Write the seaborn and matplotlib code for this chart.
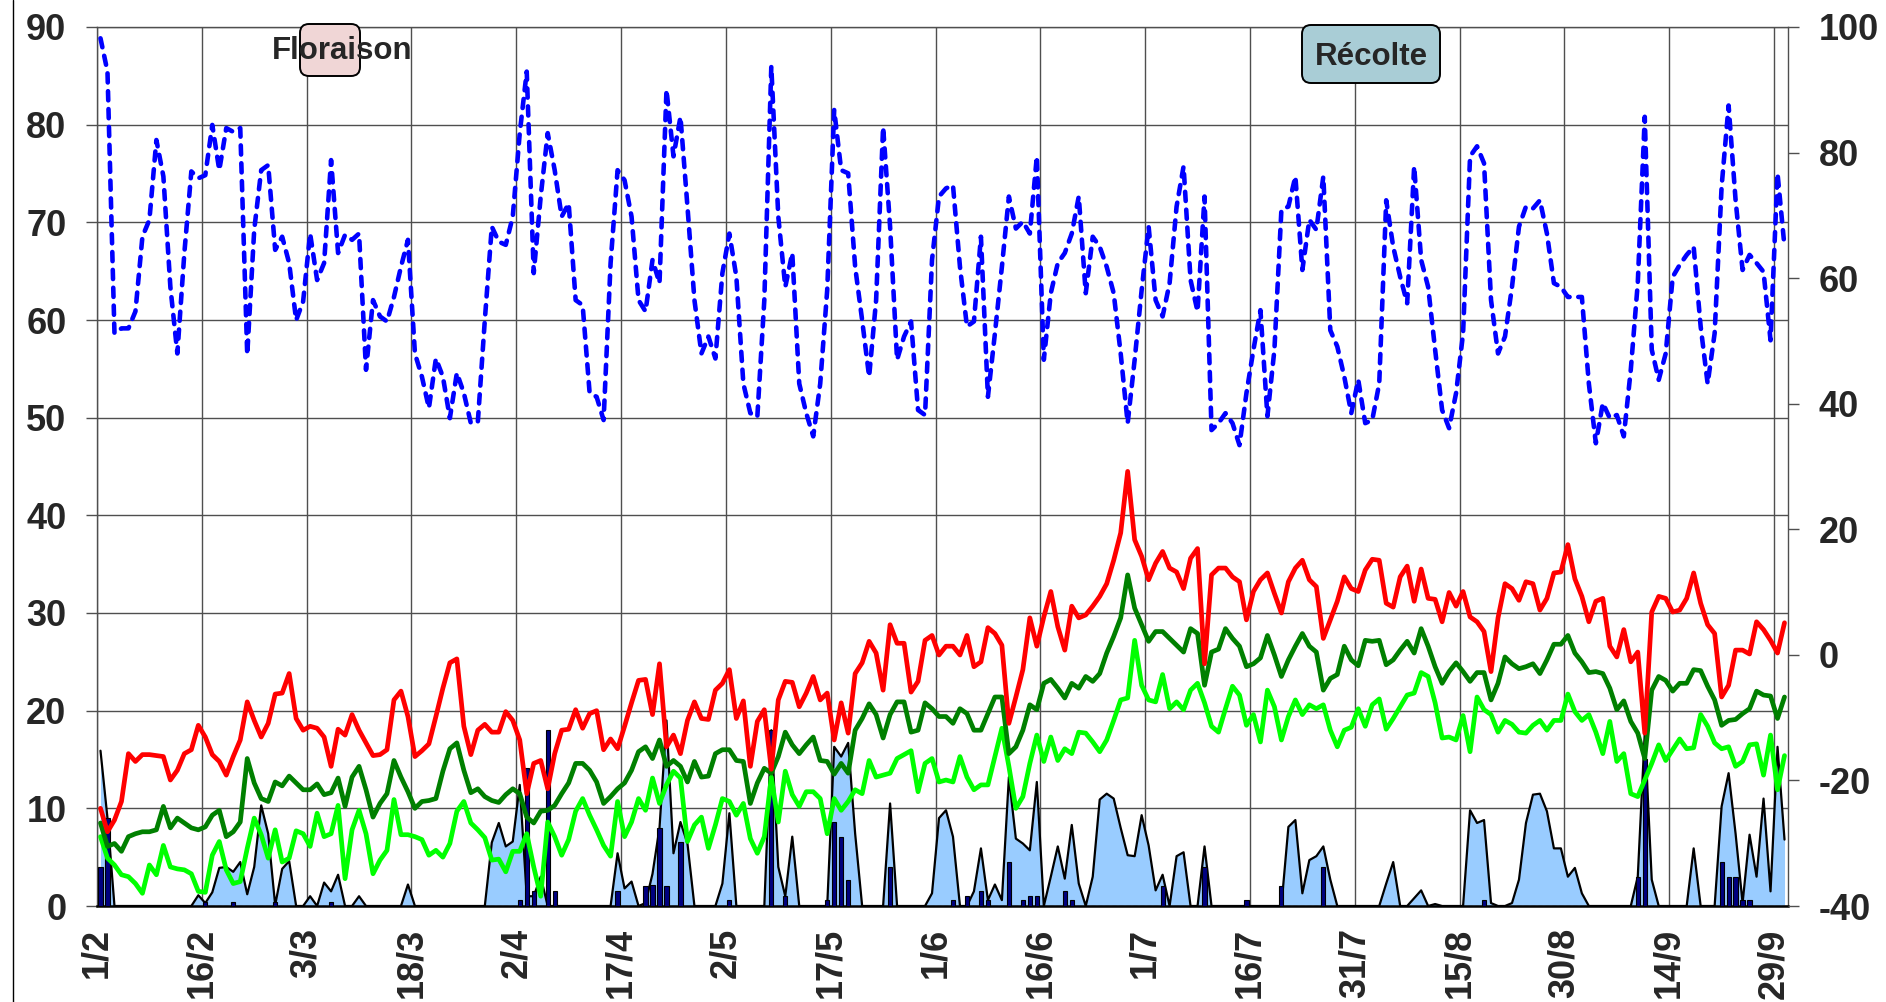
import numpy as np
import pandas as pd
import matplotlib
matplotlib.use("Agg")
import matplotlib.pyplot as plt
import seaborn as sns
from matplotlib.patches import FancyBboxPatch
from matplotlib.lines import Line2D
from matplotlib.transforms import IdentityTransform

# ---------------- data (daily, 1/2 -> 30/9) ----------------
date_labels = ['1/2', '16/2', '3/3', '18/3', '2/4', '17/4', '2/5', '17/5', '1/6',
               '16/6', '1/7', '16/7', '31/7', '15/8', '30/8', '14/9', '29/9']

tmax = [10.0, 7.6, 8.8, 10.7, 15.6, 14.8, 15.5, 15.5, 15.4, 15.3, 12.9, 13.9, 15.6, 16.0, 18.5, 17.3, 15.5, 14.8, 13.4, 15.3,
        17.0, 20.9, 19.0, 17.3, 18.7, 21.7, 21.8, 23.8, 19.2, 18.0, 18.4, 18.2, 17.3, 14.3, 18.1, 17.5, 19.6, 18.0, 16.7, 15.4,
        15.5, 16.0, 21.1, 22.0, 19.4, 15.3, 15.9, 16.6, 19.4, 22.3, 24.9, 25.3, 18.4, 15.5, 18.0, 18.6, 17.8, 17.8, 19.9, 19.0,
        17.0, 11.5, 14.6, 14.9, 12.0, 15.6, 18.0, 18.1, 20.1, 18.2, 19.7, 20.0, 16.0, 17.1, 16.1, 18.4, 20.8, 23.1, 23.2, 19.6,
        24.8, 16.3, 17.5, 15.6, 19.0, 20.9, 19.2, 19.1, 22.1, 22.8, 24.2, 19.2, 21.0, 14.3, 18.9, 20.1, 14.0, 21.1, 23.0, 22.9,
        20.4, 21.8, 23.5, 21.1, 21.8, 17.0, 20.8, 17.7, 23.8, 24.9, 27.1, 25.9, 22.1, 28.8, 26.9, 26.9, 21.9, 23.0, 27.2, 27.7,
        25.7, 26.6, 26.6, 25.7, 27.7, 24.5, 25.0, 28.5, 27.9, 26.7, 18.7, 21.4, 24.2, 29.5, 26.6, 29.6, 32.2, 28.6, 26.2, 30.7,
        29.5, 29.8, 30.7, 31.7, 33.0, 35.4, 38.2, 44.5, 37.5, 35.8, 33.4, 35.1, 36.3, 34.6, 34.2, 32.5, 35.6, 36.6, 24.8, 33.9,
        34.6, 34.6, 33.7, 33.2, 29.3, 32.2, 33.4, 34.1, 32.0, 30.0, 33.2, 34.6, 35.4, 33.4, 32.7, 27.4, 29.3, 31.2, 33.7, 32.5,
        32.2, 34.4, 35.5, 35.4, 31.0, 30.6, 33.7, 34.8, 31.2, 34.5, 31.5, 31.4, 29.1, 32.1, 30.7, 32.2, 29.6, 29.1, 28.1, 24.0,
        29.5, 33.0, 32.5, 31.3, 33.2, 33.0, 30.3, 31.5, 34.1, 34.2, 37.0, 33.5, 31.7, 29.1, 31.2, 31.5, 26.6, 25.5, 28.3, 25.0,
        26.0, 17.7, 30.1, 31.7, 31.5, 30.1, 30.3, 31.5, 34.1, 31.0, 28.8, 27.9, 21.4, 22.6, 26.2, 26.2, 25.8, 29.1, 28.3, 27.2,
        25.9, 29.0]

tmean = [8.5, 6.1, 6.4, 5.6, 7.1, 7.4, 7.6, 7.6, 7.8, 10.2, 8.0, 9.0, 8.5, 8.0, 7.8, 8.1, 9.3, 9.8, 7.1, 7.6,
         8.6, 15.1, 12.6, 11.0, 10.7, 12.7, 12.3, 13.3, 12.6, 11.9, 11.9, 12.5, 11.4, 11.6, 13.1, 10.2, 13.2, 14.3, 11.9, 9.1,
         10.5, 11.5, 14.9, 13.2, 11.7, 10.0, 10.7, 10.8, 11.0, 13.8, 16.1, 16.7, 13.9, 11.6, 12.0, 11.2, 10.8, 10.6, 11.4, 12.0,
         11.5, 9.1, 8.5, 9.7, 9.8, 10.3, 11.5, 12.6, 14.6, 14.6, 13.9, 12.7, 10.5, 11.2, 12.0, 12.6, 13.9, 15.8, 16.3, 15.1,
         17.0, 14.3, 14.9, 14.3, 12.7, 14.8, 13.2, 13.3, 15.6, 16.0, 16.0, 14.9, 14.8, 10.5, 12.6, 14.1, 13.6, 15.3, 17.8, 16.5,
         15.6, 16.5, 17.3, 14.9, 14.8, 13.5, 14.6, 13.6, 18.0, 19.2, 20.7, 19.6, 17.2, 19.6, 20.9, 20.9, 17.8, 18.0, 20.8, 20.2,
         19.4, 19.4, 18.7, 20.2, 19.7, 18.0, 18.0, 19.7, 21.4, 21.4, 15.6, 16.3, 18.0, 20.6, 20.1, 22.8, 23.2, 22.3, 21.3, 22.8,
         22.3, 23.5, 23.0, 23.8, 25.9, 27.6, 29.5, 33.9, 30.5, 28.8, 27.1, 28.1, 28.1, 27.4, 26.7, 26.0, 28.4, 27.9, 22.6, 26.0,
         26.3, 28.4, 27.4, 26.6, 24.5, 24.8, 25.4, 27.7, 25.7, 23.5, 25.2, 26.6, 27.9, 26.6, 26.0, 22.1, 23.3, 23.7, 26.6, 25.2,
         24.6, 27.2, 27.1, 27.2, 24.7, 25.2, 26.2, 27.1, 25.9, 28.4, 26.6, 24.5, 22.8, 24.0, 24.9, 24.0, 23.0, 23.9, 23.9, 21.1,
         22.8, 25.5, 24.8, 24.3, 24.5, 24.8, 23.8, 25.2, 26.8, 26.8, 27.7, 25.9, 25.0, 23.9, 24.0, 23.8, 22.3, 20.1, 21.0, 18.9,
         17.7, 15.1, 22.1, 23.5, 23.1, 22.0, 22.8, 22.8, 24.2, 24.1, 22.5, 21.1, 18.5, 19.0, 19.1, 19.7, 20.2, 22.0, 21.6, 21.5,
         19.2, 21.4]

tmin = [7.1, 4.9, 4.2, 3.2, 3.0, 2.3, 1.3, 4.2, 3.2, 6.2, 4.0, 3.8, 3.7, 3.3, 1.5, 1.4, 5.2, 6.6, 3.7, 2.3,
        2.5, 5.9, 9.0, 7.3, 4.9, 7.8, 4.5, 4.9, 7.7, 7.4, 6.1, 9.5, 7.1, 7.4, 10.3, 2.8, 7.8, 9.8, 7.4, 3.3,
        4.7, 5.7, 10.9, 7.3, 7.3, 7.1, 6.8, 5.2, 5.7, 5.0, 6.4, 9.7, 10.7, 8.5, 7.8, 7.0, 4.7, 4.8, 3.5, 5.6,
        5.6, 7.4, 4.0, 1.0, 8.6, 7.1, 5.2, 6.8, 9.7, 11.0, 9.3, 7.8, 6.2, 5.1, 10.7, 7.1, 8.6, 11.0, 9.8, 13.1,
        10.5, 12.4, 13.8, 13.1, 6.6, 8.3, 9.1, 5.9, 8.3, 11.0, 10.7, 9.3, 10.5, 6.9, 5.4, 7.1, 13.2, 8.6, 13.8, 11.4,
        10.2, 11.7, 11.7, 11.0, 7.4, 11.0, 9.8, 10.7, 11.9, 11.5, 14.9, 13.2, 13.4, 13.6, 15.1, 15.5, 15.9, 11.7, 14.6, 15.1,
        12.7, 12.9, 12.7, 15.3, 13.2, 11.9, 12.4, 12.4, 15.3, 18.2, 14.3, 10.0, 11.2, 14.6, 17.5, 14.8, 17.3, 14.9, 16.1, 15.6,
        17.8, 17.7, 16.8, 15.8, 17.0, 19.0, 21.1, 21.3, 27.2, 22.6, 21.1, 20.9, 23.7, 20.2, 20.9, 20.1, 22.1, 22.8, 20.8, 18.4,
        17.8, 20.2, 22.5, 21.6, 18.5, 19.6, 16.8, 22.1, 20.4, 17.0, 19.4, 21.1, 19.6, 20.6, 20.2, 20.6, 18.0, 16.3, 18.0, 18.3,
        20.2, 18.4, 20.6, 21.2, 18.1, 19.2, 20.4, 21.6, 21.8, 23.9, 23.5, 20.8, 17.2, 17.3, 17.0, 19.5, 15.8, 21.4, 20.1, 19.6,
        17.8, 19.0, 18.6, 17.8, 17.7, 18.5, 19.0, 18.0, 19.0, 19.0, 21.7, 19.9, 19.0, 19.6, 17.8, 15.6, 18.9, 14.8, 15.6, 11.5,
        11.2, 12.9, 14.6, 16.5, 14.9, 16.0, 17.1, 16.1, 16.2, 19.6, 18.4, 16.7, 16.1, 16.3, 14.3, 14.8, 16.5, 16.6, 13.4, 17.5,
        11.9, 15.4]

humidity = [98.2, 92.9, 51.2, 52.0, 52.0, 54.7, 66.6, 69.3, 82.0, 76.2, 58.6, 48.0, 64.0, 77.0, 75.9, 76.4, 84.4, 77.2, 83.9, 83.3,
            83.9, 47.8, 67.7, 77.2, 78.0, 64.5, 66.6, 62.4, 53.3, 56.3, 67.1, 59.7, 62.4, 78.8, 64.0, 66.9, 66.1, 67.1, 45.4, 56.5,
            53.9, 53.1, 57.0, 61.8, 66.1, 48.0, 44.3, 39.3, 47.2, 44.3, 37.7, 44.9, 41.7, 36.9, 37.1, 53.3, 68.2, 65.8, 65.3, 69.8,
            83.1, 92.9, 60.8, 73.0, 83.1, 77.2, 69.8, 71.9, 56.5, 55.7, 41.7, 41.1, 37.4, 62.4, 77.2, 75.6, 69.8, 56.5, 54.7, 62.9,
            59.2, 90.0, 79.4, 85.7, 71.4, 56.5, 48.0, 50.7, 47.2, 60.8, 67.1, 60.2, 43.2, 38.5, 37.9, 56.5, 93.7, 69.8, 58.6, 64.0,
            43.2, 38.5, 34.8, 43.2, 58.1, 86.8, 77.2, 76.7, 61.8, 53.3, 44.3, 56.5, 84.1, 68.2, 47.0, 50.7, 53.1, 39.0, 38.2, 62.9,
            73.0, 74.3, 74.8, 61.8, 52.3, 53.1, 66.6, 41.1, 51.2, 61.8, 73.0, 67.9, 69.0, 67.1, 79.4, 47.0, 57.6, 62.4, 64.0, 67.1,
            73.0, 57.6, 66.6, 65.0, 61.8, 57.6, 48.0, 36.9, 47.0, 58.1, 68.2, 56.5, 53.9, 59.2, 71.4, 77.8, 59.7, 54.7, 73.0, 35.8,
            36.9, 38.5, 36.9, 33.4, 41.7, 48.6, 54.9, 38.0, 48.6, 70.9, 71.4, 76.2, 61.3, 69.3, 67.7, 76.2, 51.7, 49.1, 44.3, 38.5,
            43.8, 36.9, 37.4, 43.2, 72.4, 65.0, 60.2, 56.0, 77.8, 62.9, 58.6, 48.6, 39.0, 36.1, 41.7, 51.2, 79.4, 81.0, 78.3, 56.5,
            48.0, 50.7, 58.6, 68.2, 71.4, 71.1, 72.4, 67.1, 59.2, 58.6, 57.0, 57.0, 57.0, 43.2, 33.7, 40.1, 37.7, 38.2, 34.8, 45.4,
            59.2, 85.7, 48.6, 43.8, 48.0, 60.2, 62.1, 63.7, 65.0, 52.3, 43.2, 51.2, 74.6, 87.5, 72.4, 61.3, 63.7, 62.4, 61.0, 50.1,
            76.7, 65.0]

wetness = [15.9, 9.0, 0, 0, 0, 0, 0, 0, 0, 0, 0, 0, 0, 0, 1.1, 0.3, 1.4, 3.9, 4.0, 3.5,
           4.5, 1.2, 4.0, 10.3, 7.4, 0.1, 3.8, 4.6, 0, 0, 1.0, 0, 2.4, 1.5, 3.2, 0, 0, 1.0, 0, 0,
           0, 0, 0, 0, 2.2, 0, 0, 0, 0, 0, 0, 0, 0, 0, 0, 0, 6.5, 8.5, 6.1, 6.6,
           12.4, 1.0, 1.0, 3.0, 0, 0, 0, 0, 0, 0, 0, 0, 0, 0, 5.4, 1.8, 2.5, 0, 0.3, 3.3,
           8.0, 19.0, 5.4, 8.6, 6.4, 0, 0, 0, 0, 2.3, 9.5, 0, 0, 0, 0, 0, 18.0, 4.0, 1.0, 7.1,
           0, 0, 0, 0, 0, 16.3, 15.3, 16.7, 7.4, 0, 0, 0, 0, 10.5, 0, 0, 0, 0, 0, 1.3,
           9.0, 9.8, 7.1, 0, 0, 1.5, 5.9, 0.6, 2.2, 0.6, 13.2, 6.9, 6.4, 5.7, 12.7, 0, 3.0, 6.1, 2.8, 8.3,
           2.3, 0, 3.0, 10.9, 11.5, 11.0, 8.0, 5.2, 5.1, 9.3, 6.2, 1.6, 3.2, 0, 5.1, 5.5, 0, 0, 6.1, 0,
           0, 0, 0, 0, 0, 0, 0, 0, 0, 0, 8.1, 8.8, 1.3, 4.7, 5.1, 6.1, 2.7, 0, 0, 0,
           0, 0, 0, 0, 2.3, 4.5, 0, 0, 0.8, 1.6, 0, 0.2, 0, 0, 0, 0, 9.8, 8.5, 8.8, 0.3,
           0, 0, 0.3, 2.7, 8.5, 11.4, 11.5, 9.7, 5.9, 5.9, 3.0, 3.9, 1.3, 0, 0, 0, 0, 0, 0, 0,
           3.0, 17.7, 2.7, 0, 0, 0, 0, 0, 5.9, 0, 0, 0, 10.2, 13.6, 7.4, 0.3, 7.3, 3.0, 11.0, 1.5,
           16.3, 6.8]

rain = [4.0, 9.0, 0, 0, 0, 0, 0, 0, 0, 0, 0, 0, 0, 0, 0, 0.4, 0, 0, 0, 0.4,
        0, 0, 0, 0, 0, 0.4, 0, 0, 0, 0, 0, 0, 0, 0.4, 0, 0, 0, 0, 0, 0,
        0, 0, 0, 0, 0, 0, 0, 0, 0, 0, 0, 0, 0, 0, 0, 0, 0, 0, 0, 0,
        0.6, 14.1, 1.5, 0, 18.0, 1.5, 0, 0, 0, 0, 0, 0, 0, 0, 1.5, 0, 0, 0, 2.0, 2.1,
        8.0, 2.0, 0, 6.6, 0, 0, 0, 0, 0, 0, 0.6, 0, 0, 0, 0, 0, 18.0, 0, 1.0, 0,
        0, 0, 0, 0, 0.6, 8.6, 7.1, 2.7, 0, 0, 0, 0, 0, 4.0, 0, 0, 0, 0, 0, 0,
        0, 0, 0.6, 0, 1.0, 0, 1.5, 0.6, 0, 0, 4.5, 0, 0.6, 1.0, 1.0, 0, 0, 0, 1.5, 0.6,
        0, 0, 0, 0, 0, 0, 0, 0, 0, 0, 0, 0, 2.0, 0, 0, 0, 0, 0, 4.0, 0,
        0, 0, 0, 0, 0.6, 0, 0, 0, 0, 2.0, 0, 0, 0, 0, 0, 4.0, 0, 0, 0, 0,
        0, 0, 0, 0, 0, 0, 0, 0, 0, 0, 0, 0, 0, 0, 0, 0, 0, 0, 0.6, 0,
        0, 0, 0, 0, 0, 0, 0, 0, 0, 0, 0, 0, 0, 0, 0, 0, 0, 0, 0, 0,
        3.0, 15.1, 0, 0, 0, 0, 0, 0, 0, 0, 0, 0, 4.5, 3.0, 3.0, 0.6, 0.6, 0, 0, 0,
        0, 0]

n_days = len(tmax)
df = pd.DataFrame({
    "day": np.arange(n_days) + 0.5,
    "tmax": tmax, "tmean": tmean, "tmin": tmin,
    "humidity": humidity, "wetness": wetness, "rain": rain,
})

# ---------------- style ----------------
sns.set_theme(style="white")
plt.rcParams['font.family'] = ['Liberation Sans', 'DejaVu Sans']
plt.rcParams['font.weight'] = 'bold'

W, H = 1886, 1002
fig = plt.figure(figsize=(W / 100, H / 100), dpi=100)
fig.patch.set_facecolor("white")

L, R, T, B = 97, 1788, 27, 906
ax = fig.add_axes([L / W, 1 - B / H, (R - L) / W, (B - T) / H])
ax.set_facecolor("white")

grid_c = "#4f4f4f"
tick_fs = 26


def seaborn_line(axis, col, color, width, z, **kw):
    sns.lineplot(data=df, x="day", y=col, ax=axis, color=color, zorder=z, **kw)
    ln = axis.get_lines()[-1]
    ln.set_linewidth(width)
    ln.set_zorder(z)
    return ln


# area (light blue with black outline)
ax.fill_between(df["day"], df["wetness"], 0, color="#99ccff", linewidth=0, zorder=1)
seaborn_line(ax, "wetness", "black", 1.6, 2)

# rain bars
ax.bar(df["day"], df["rain"], width=0.6, color="#000080", edgecolor="black",
       linewidth=0.8, zorder=3)

# temperatures
line_w = 3.4
seaborn_line(ax, "tmin", "#00ff00", line_w, 4)
seaborn_line(ax, "tmean", "#008000", line_w, 5)
seaborn_line(ax, "tmax", "#ff0000", line_w, 6)

ax.set_xlim(0, n_days)
ax.set_ylim(0, 90)
ax.set_xticks(np.arange(0, n_days, 15))
ax.set_xticklabels(date_labels, rotation=90, fontsize=tick_fs, fontweight="bold")
ax.set_yticks(np.arange(0, 91, 10))
ax.set_yticklabels([str(v) for v in range(0, 91, 10)], fontsize=tick_fs, fontweight="bold")
ax.set_xlabel("")
ax.set_ylabel("")
ax.grid(True, color=grid_c, linewidth=1.0, zorder=0)
ax.set_axisbelow(True)
ax.tick_params(axis="both", direction="out", length=8, width=1.0, color=grid_c)
ax.tick_params(axis="x", pad=8)
ax.tick_params(axis="y", pad=14)
for s in ax.spines.values():
    s.set_color(grid_c)
    s.set_linewidth(1.0)
ax.spines["bottom"].set_color("black")
ax.spines["bottom"].set_linewidth(1.8)

# humidity on right axis
ax2 = ax.twinx()
hl = seaborn_line(ax2, "humidity", "#0000ff", 3.3, 7)
hl.set_linestyle((0, (2.0, 1.9)))
hl.set_dash_capstyle("round")
ax2.set_ylim(-40, 100)
ax2.set_yticks(np.arange(-40, 101, 20))
ax2.set_yticklabels([str(v) for v in range(-40, 101, 20)], fontsize=tick_fs, fontweight="bold")
ax2.set_ylabel("")
ax2.tick_params(axis="y", direction="out", length=8, width=1.0, color=grid_c, pad=14)
for s in ax2.spines.values():
    s.set_visible(False)
ax2.grid(False)
ax.set_xlim(0, n_days)

# chart border on the left
fig.add_artist(Line2D([13 / W, 13 / W], [0, 1], transform=fig.transFigure,
                      color="black", linewidth=1.0))

# annotation boxes
ident = IdentityTransform()


def box(x0, y0, x1, y1, fc):
    p = FancyBboxPatch((x0, H - y1), x1 - x0, y1 - y0,
                       boxstyle="round,pad=0,rounding_size=9",
                       transform=ident, fc=fc, ec="black", linewidth=1.4, zorder=20)
    fig.add_artist(p)


box(300, 24, 360, 76, "#f0d6d6")
box(1302, 25, 1440, 83, "#a9cdd6")
fig.text(342 / W, 1 - 59 / H, "Floraison", ha="center", va="baseline",
         fontsize=22.5, fontweight="bold", zorder=21)
fig.text(1371 / W, 1 - 65 / H, "Récolte", ha="center", va="baseline",
         fontsize=22.5, fontweight="bold", zorder=21)

fig.savefig("out.png", dpi=100, facecolor="white")
